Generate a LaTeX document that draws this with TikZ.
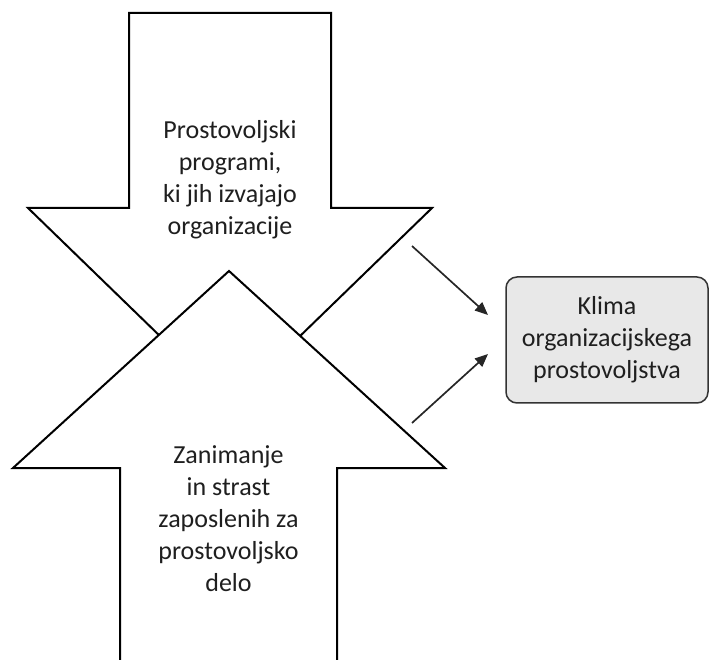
\documentclass[tikz,border=0pt]{standalone}
\usepackage{fontspec}
\setmainfont{Carlito}
\usetikzlibrary{arrows.meta}
\begin{document}
\begin{tikzpicture}[x=1pt,y=-1pt,
  bigarrow/.style={draw=black, fill=white, line width=2pt, line join=miter},
  lbl/.style={align=center, font=\fontsize{26}{32}\selectfont, text=black!88, inner sep=0pt},
  conn/.style={draw=black!85, line width=1.7pt, -{Triangle[length=13pt,width=11pt]}},
  klimabox/.style={draw=black!80, fill=gray!18, line width=1.5pt, rounded corners=11pt,
    minimum width=202pt, minimum height=126pt, align=center,
    font=\fontsize{26}{32}\selectfont, text=black!88, inner sep=0pt}
]
\useasboundingbox (0,0) rectangle (710,660);
% down arrow
\draw[bigarrow] (129,13) -- (331,13) -- (331,208) -- (432,208) -- (230,404) -- (28,208) -- (129,208) -- cycle;
% up arrow (on top)
\draw[bigarrow] (120,690) -- (120,468) -- (13,468) -- (229,271) -- (445,468) -- (337,468) -- (337,690) -- cycle;
% texts
\node[lbl] (prog) at (230,180) {Prostovoljski\\programi,\\ki jih izvajajo\\organizacije};
\node[lbl] (zan) at (228.5,519) {Zanimanje\\in strast\\zaposlenih za\\prostovoljsko\\delo};
\node[klimabox] (klima) at (607,340) {Klima\\organizacijskega\\prostovoljstva};
% connectors
\coordinate (a1) at (412,246);
\coordinate (e1) at (488,315);
\coordinate (a2) at (412,423);
\coordinate (e2) at (488,354);
\draw[conn] (a1) -- (e1);
\draw[conn] (a2) -- (e2);
\end{tikzpicture}
\end{document}
